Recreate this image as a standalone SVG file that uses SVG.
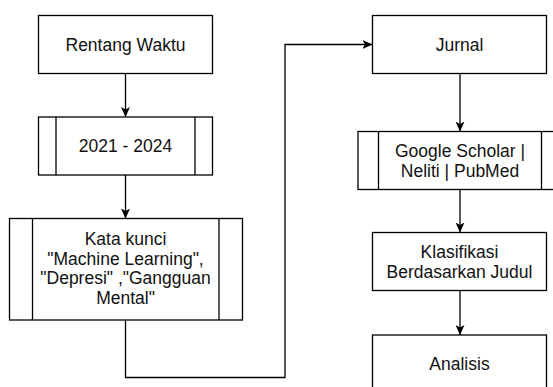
<svg xmlns="http://www.w3.org/2000/svg" width="553" height="387" viewBox="0 0 553 387">
<style>
.box{fill:#fff;stroke:#000;stroke-width:1.3}
.ln{fill:none;stroke:#000;stroke-width:1.3}
.t{font-family:"Liberation Sans",Arial,sans-serif;font-size:17.5px;fill:#111;text-anchor:middle}
</style>
<defs>
<marker id="arr" markerUnits="userSpaceOnUse" viewBox="0 0 10 9" markerWidth="10" markerHeight="9" refX="10" refY="4.5" orient="auto">
<path d="M0,0 L10,4.5 L0,9 L2.5,4.5 Z" fill="#000"/>
</marker>
</defs>
<rect width="553" height="387" fill="#fff"/>
<g id="connectors">
<line class="ln" x1="125.5" y1="73.5" x2="125.5" y2="117" marker-end="url(#arr)"/>
<line class="ln" x1="125.5" y1="175" x2="125.5" y2="218.5" marker-end="url(#arr)"/>
<path class="ln" d="M125.5,320 L125.5,377.5 L285,377.5 L285,44.5 L372.5,44.5" marker-end="url(#arr)"/>
<line class="ln" x1="460" y1="73.5" x2="460" y2="131.5" marker-end="url(#arr)"/>
<line class="ln" x1="460" y1="189.5" x2="460" y2="232.5" marker-end="url(#arr)"/>
<line class="ln" x1="460" y1="290.5" x2="460" y2="335" marker-end="url(#arr)"/>
</g>
<g id="rentang">
<rect class="box" x="38.5" y="15.5" width="174" height="58"/>
<text class="t" x="125.5" y="50.5">Rentang Waktu</text>
</g>
<g id="tahun">
<rect class="box" x="38.5" y="117" width="174" height="58"/>
<line class="ln" x1="56" y1="117" x2="56" y2="175"/>
<line class="ln" x1="195" y1="117" x2="195" y2="175"/>
<text class="t" x="125.5" y="152">2021 - 2024</text>
</g>
<g id="katakunci">
<rect class="box" x="9.5" y="218.5" width="233" height="101.5"/>
<line class="ln" x1="32.5" y1="218.5" x2="32.5" y2="320"/>
<line class="ln" x1="219" y1="218.5" x2="219" y2="320"/>
<text class="t" x="125.5" y="245">Kata kunci</text>
<text class="t" x="125.5" y="264.5">"Machine Learning",</text>
<text class="t" x="125.5" y="284">"Depresi" ,"Gangguan</text>
<text class="t" x="125.5" y="303.5">Mental"</text>
</g>
<g id="jurnal">
<rect class="box" x="372.5" y="15.5" width="174" height="58"/>
<text class="t" x="459.5" y="50.5">Jurnal</text>
</g>
<g id="sumber">
<rect class="box" x="358" y="131.5" width="204" height="58"/>
<line class="ln" x1="378.5" y1="131.5" x2="378.5" y2="189.5"/>
<line class="ln" x1="541.5" y1="131.5" x2="541.5" y2="189.5"/>
<text class="t" x="460" y="157">Google Scholar |</text>
<text class="t" x="460" y="177">Neliti | PubMed</text>
</g>
<g id="klasifikasi">
<rect class="box" x="372.5" y="232.5" width="174" height="58"/>
<text class="t" x="459.5" y="257.5">Klasifikasi</text>
<text class="t" x="459.5" y="277.5">Berdasarkan Judul</text>
</g>
<g id="analisis">
<rect class="box" x="372.5" y="335" width="174" height="58"/>
<text class="t" x="459.5" y="370">Analisis</text>
</g>
</svg>
